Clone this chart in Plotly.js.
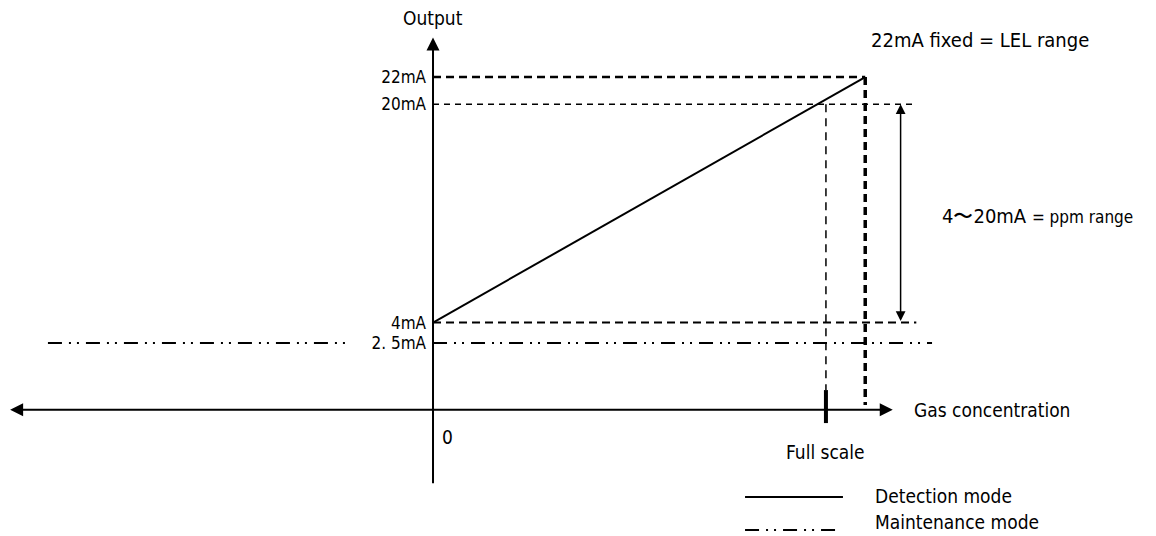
<!DOCTYPE html>
<html>
<head>
<meta charset="utf-8">
<script src="https://cdn.plot.ly/plotly-3.0.1.min.js"></script>
<style>
  html, body { margin: 0; padding: 0; background: #fff; }
  #chart { width: 1156px; height: 536px; }
</style>
</head>
<body>
<div id="chart"></div>
<script>
// output levels (mA) and their labels on the vertical axis
var levelValues = [22, 20, 4, 2.5];
var levelLabels = ['22mA', '20mA', '4mA', '2. 5mA'];

// gas concentration, full scale = 100
var fullScale = 100;
var lelPoint = 110;

// detection mode: 4mA at zero gas up to 22mA fixed
var detectX = [0, lelPoint];
var detectY = [4, 22];

// maintenance mode: flat 2.5mA (broken where the label sits)
var maintX = [-98, -22, null, 0, 127];
var maintY = [2.5, 2.5, null, 2.5, 2.5];

// dashed guide lines
var guide22X = [0, lelPoint];
var guide22Y = [22, 22];
var guide20X = [0, 123];
var guide20Y = [20, 20];
var guide4X = [0, 123];
var guide4Y = [4, 4];

// schematic axis positions
var axisLevel = -2.4;
var xAxisEnds = [-108, 117];
var yAxisEnds = [-7.9, 24.9];
var rangeArrowX = 119;

var font = "'Liberation Sans Narrow', 'DejaVu Sans Condensed', 'Arial Narrow', sans-serif";

function seg(x, y, width, dash) {
    return {
        x: x, y: y, mode: 'lines', type: 'scatter', hoverinfo: 'skip',
        showlegend: false, connectgaps: false,
        line: { color: '#000', width: width, dash: dash || 'solid' }
    };
}

var traces = [
    seg(guide22X, guide22Y, 2.5, '8px,5px'),
    seg(guide20X, guide20Y, 1.5, '6px,5px'),
    seg(guide4X, guide4Y, 2, '8px,5px'),
    seg([fullScale, fullScale], [20, -0.95], 1.5, '8px,6px'),
    seg([lelPoint, lelPoint], [22, -2.05], 3.5, '8px,5px'),
    seg([fullScale, fullScale], [-0.95, -3.37], 4),
    seg(maintX, maintY, 2, '14px,7px,2px,6px,2px,7px'),
    seg(detectX, detectY, 2)
];

function arrow(x, y, ax, ay, width, both) {
    return {
        x: x, y: y, ax: ax, ay: ay, xref: 'x', yref: 'y', axref: 'x', ayref: 'y',
        text: '', showarrow: true, arrowhead: 2, arrowsize: 1.3,
        arrowwidth: width, arrowcolor: '#000', arrowside: both ? 'end+start' : 'end',
        standoff: 0, startstandoff: 0
    };
}

function label(text, x, y, size, xanchor, xref, yref) {
    return {
        text: text, x: x, y: y, xref: xref || 'x', yref: yref || 'y',
        showarrow: false, xanchor: xanchor || 'center', yanchor: 'middle',
        font: { family: font, size: size, color: '#000' }
    };
}

var annotations = [
    arrow(0, yAxisEnds[1], 0, yAxisEnds[0], 2, false),
    arrow(xAxisEnds[1], axisLevel, xAxisEnds[0], axisLevel, 2, true),
    arrow(rangeArrowX, 20, rangeArrowX, 4, 1.5, true),
    label('Output', 0, 26.3, 19),
    label('22mA fixed = LEL range', 111, 24.7, 20, 'left'),
    label('4〜20mA <span style="font-size:17px">= ppm range</span>', 129, 11.8, 20, 'left'),
    label('Gas concentration', 122, axisLevel, 19, 'left'),
    label('0', 3.8, -4.4, 19, 'center'),
    label('Full scale', fullScale, -5.5, 19, 'center'),
    label('Detection mode', 0.755, 0.074, 19, 'left', 'paper', 'paper'),
    label('Maintenance mode', 0.755, 0.027, 19, 'left', 'paper', 'paper')
];

var shapes = [
    { type: 'line', xref: 'paper', yref: 'paper', x0: 0.6445, x1: 0.7292, y0: 0.0728, y1: 0.0728,
      line: { color: '#000', width: 2 } },
    { type: 'line', xref: 'paper', yref: 'paper', x0: 0.6445, x1: 0.7250, y0: 0.0112, y1: 0.0112,
      line: { color: '#000', width: 2, dash: '14px,7px,2px,6px,2px,7px' } }
];

var layout = {
    width: 1156,
    height: 536,
    margin: { l: 0, r: 0, t: 0, b: 0 },
    paper_bgcolor: '#fff',
    plot_bgcolor: '#fff',
    showlegend: false,
    xaxis: {
        range: [-110.2, 184],
        visible: false,
        fixedrange: true
    },
    yaxis: {
        range: [-11.65, 27.65],
        anchor: 'free',
        position: 433 / 1156,
        tickvals: levelValues,
        ticktext: levelLabels,
        ticks: '',
        ticklabelstandoff: 7,
        showgrid: false,
        zeroline: false,
        showline: false,
        tickfont: { family: font, size: 17, color: '#000' },
        fixedrange: true
    },
    annotations: annotations,
    shapes: shapes
};

Plotly.newPlot('chart', traces, layout, { displayModeBar: false, staticPlot: true });
</script>
</body>
</html>
